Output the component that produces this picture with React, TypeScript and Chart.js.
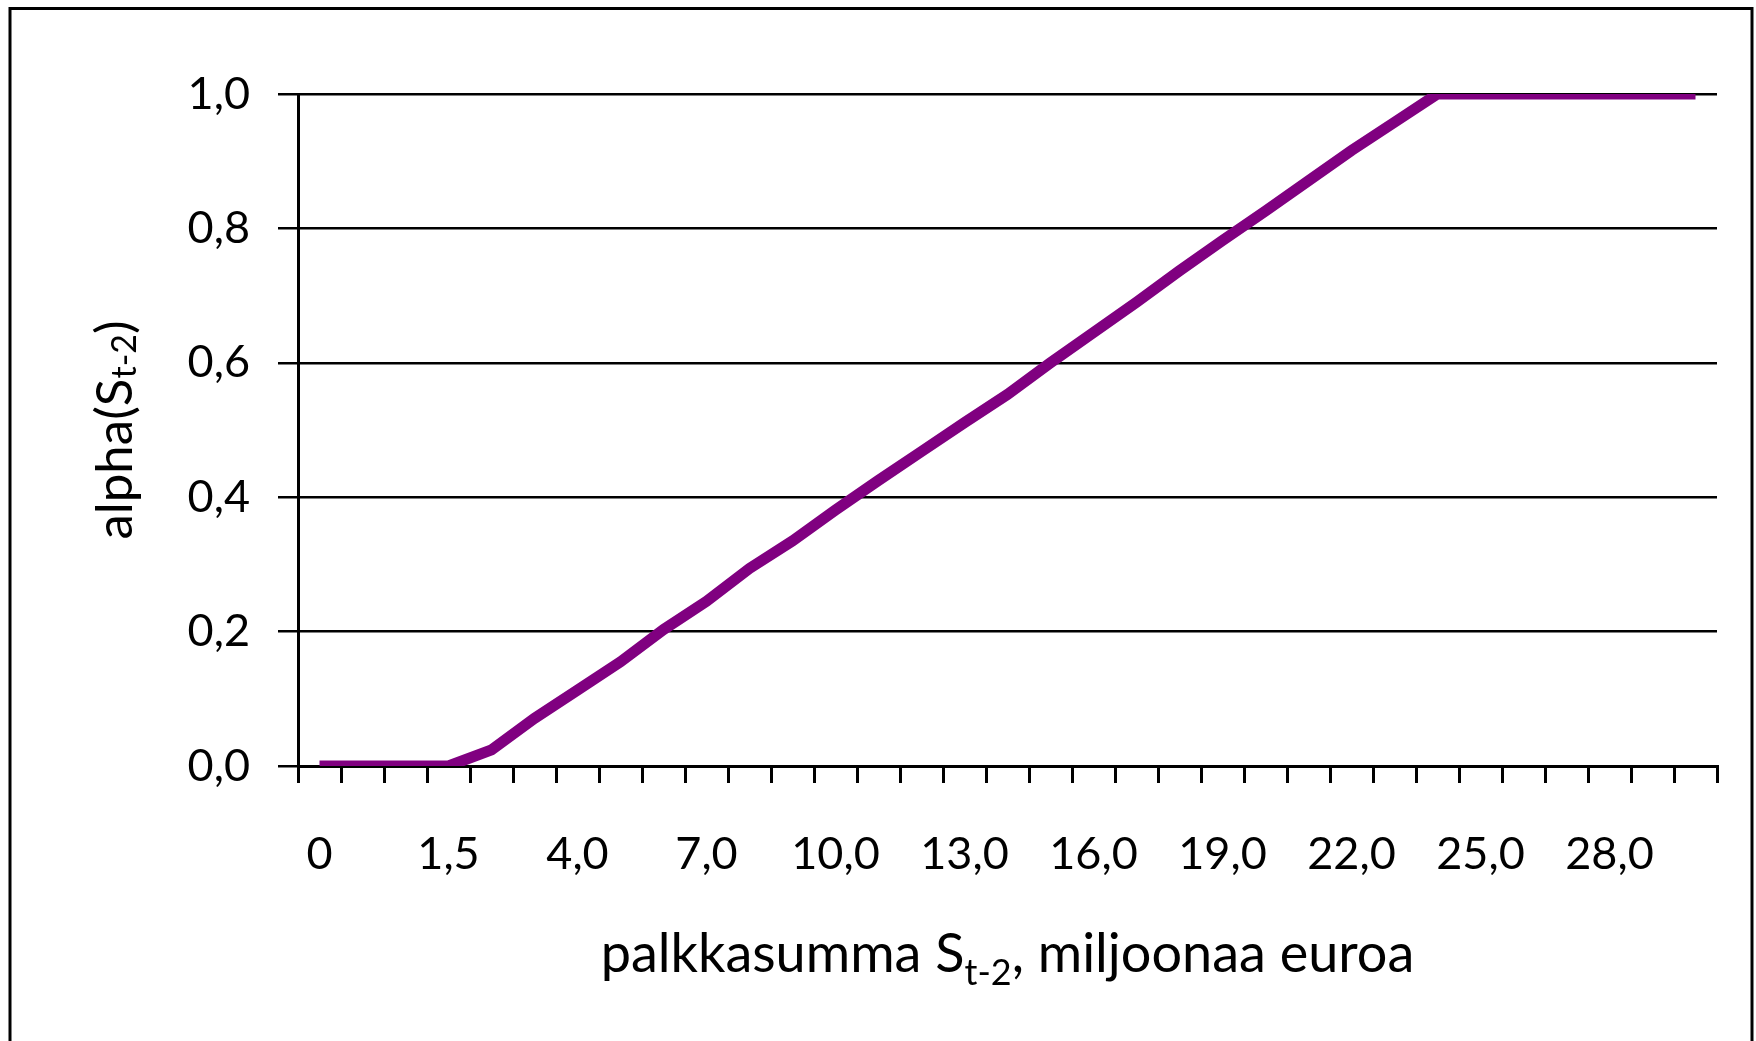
import React, { useEffect, useRef } from "react";
import { Chart, registerables } from "chart.js";

Chart.register(...registerables);

// Palkkasumma S(t-2), miljoonaa euroa (categories)
const categories = [0, 0.5, 1, 1.5, 2, 3, 4, 5, 6, 7, 8, 9, 10, 11, 12, 13, 14, 15, 16, 17, 18, 19, 20, 21, 22, 23, 24, 25, 26, 27, 28, 29, 30];

// alpha(S(t-2))
const alphaValues = [0, 0, 0, 0, 0.024, 0.071, 0.113, 0.155, 0.203, 0.245, 0.294, 0.335, 0.381, 0.425, 0.468, 0.511, 0.553, 0.6, 0.645, 0.69, 0.737, 0.782, 0.826, 0.871, 0.916, 0.958, 1, 1, 1, 1, 1, 1, 1];

// Tick labels shown on the x axis (every third category)
const xTickLabels = ["0", "", "", "1,5", "", "", "4,0", "", "", "7,0", "", "", "10,0", "", "", "13,0", "", "", "16,0", "", "", "19,0", "", "", "22,0", "", "", "25,0", "", "", "28,0", "", ""];

const yMin = 0;
const yMax = 1;
const yStep = 0.2;

const xTitleParts = [
  { text: "palkkasumma S", sub: false },
  { text: "t-2", sub: true },
  { text: ", miljoonaa euroa", sub: false },
];
const yTitleParts = [
  { text: "alpha(S", sub: false },
  { text: "t-2", sub: true },
  { text: ")", sub: false },
];

const FONT = "Lato";
const W = 1756;
const H = 1041;

function drawRich(
  ctx: CanvasRenderingContext2D,
  parts: { text: string; sub: boolean }[],
  size: number,
  subSize: number,
  subDrop: number
) {
  const mainFont = `${size}px ${FONT}`;
  const subFont = `${subSize}px ${FONT}`;
  let total = 0;
  const widths = parts.map((p) => {
    ctx.font = p.sub ? subFont : mainFont;
    const w = ctx.measureText(p.text).width;
    total += w;
    return w;
  });
  let x = -total / 2;
  ctx.textAlign = "left";
  ctx.textBaseline = "alphabetic";
  parts.forEach((p, i) => {
    ctx.font = p.sub ? subFont : mainFont;
    ctx.fillText(p.text, x, p.sub ? subDrop : 0);
    x += widths[i];
  });
}

const decorPlugin = {
  id: "decor",
  afterDraw(chart: any) {
    const ctx: CanvasRenderingContext2D = chart.ctx;
    const area = chart.chartArea;
    ctx.save();
    // outer frame
    ctx.strokeStyle = "#000";
    ctx.lineWidth = 3;
    ctx.strokeRect(10, 8.5, 1742, 1045);
    ctx.fillStyle = "#000";
    // x title
    ctx.save();
    ctx.translate((area.left + area.right) / 2, 972);
    drawRich(ctx, xTitleParts, 54, 36, 13);
    ctx.restore();
    // y title
    ctx.save();
    ctx.translate(132, (area.top + area.bottom) / 2);
    ctx.rotate(-Math.PI / 2);
    drawRich(ctx, yTitleParts, 51, 34, 4);
    ctx.restore();
    ctx.restore();
  },
};

export default function App() {
  const ref = useRef<HTMLCanvasElement | null>(null);

  useEffect(() => {
    if (!ref.current) return;
    const chart = new Chart(ref.current, {
      type: "line",
      data: {
        labels: categories.map(String),
        datasets: [
          {
            data: alphaValues,
            borderColor: "#800080",
            backgroundColor: "#800080",
            borderWidth: 11,
            pointRadius: 0,
            tension: 0,
            fill: false,
            clip: 0,
          },
        ],
      },
      options: {
        animation: false,
        responsive: false,
        maintainAspectRatio: false,
        events: [],
        layout: { padding: { top: 94, right: 39, left: 0, bottom: 0 } },
        plugins: {
          legend: { display: false },
          title: { display: false },
          tooltip: { enabled: false },
        },
        scales: {
          x: {
            type: "category",
            offset: true,
            grid: {
              display: true,
              offset: true,
              drawOnChartArea: false,
              drawTicks: true,
              tickLength: 17,
              color: "#000",
              lineWidth: 3,
            },
            border: { display: true, color: "#000", width: 3 },
            ticks: {
              autoSkip: false,
              maxRotation: 0,
              minRotation: 0,
              padding: 44,
              color: "#000",
              font: { family: FONT, size: 45 },
              callback: (_v: any, i: number) => xTickLabels[i],
            },
            afterFit: (scale: any) => {
              scale.height = H - 766;
            },
          },
          y: {
            min: yMin,
            max: yMax,
            ticks: {
              stepSize: yStep,
              padding: 28,
              color: "#000",
              font: { family: FONT, size: 45 },
              callback: (v: any) => Number(v).toFixed(1).replace(".", ","),
            },
            grid: {
              color: "#000",
              lineWidth: 2.5,
              drawTicks: true,
              tickLength: 20,
            },
            border: { display: true, color: "#000", width: 3 },
            afterFit: (scale: any) => {
              scale.width = 298;
            },
          },
        },
      },
      plugins: [decorPlugin],
    });
    return () => chart.destroy();
  }, []);

  return (
    <div style={{ position: "absolute", left: 0, top: 0, width: W, height: H, background: "#fff", overflow: "hidden" }}>
      <canvas ref={ref} width={W} height={H} style={{ display: "block" }} />
    </div>
  );
}
